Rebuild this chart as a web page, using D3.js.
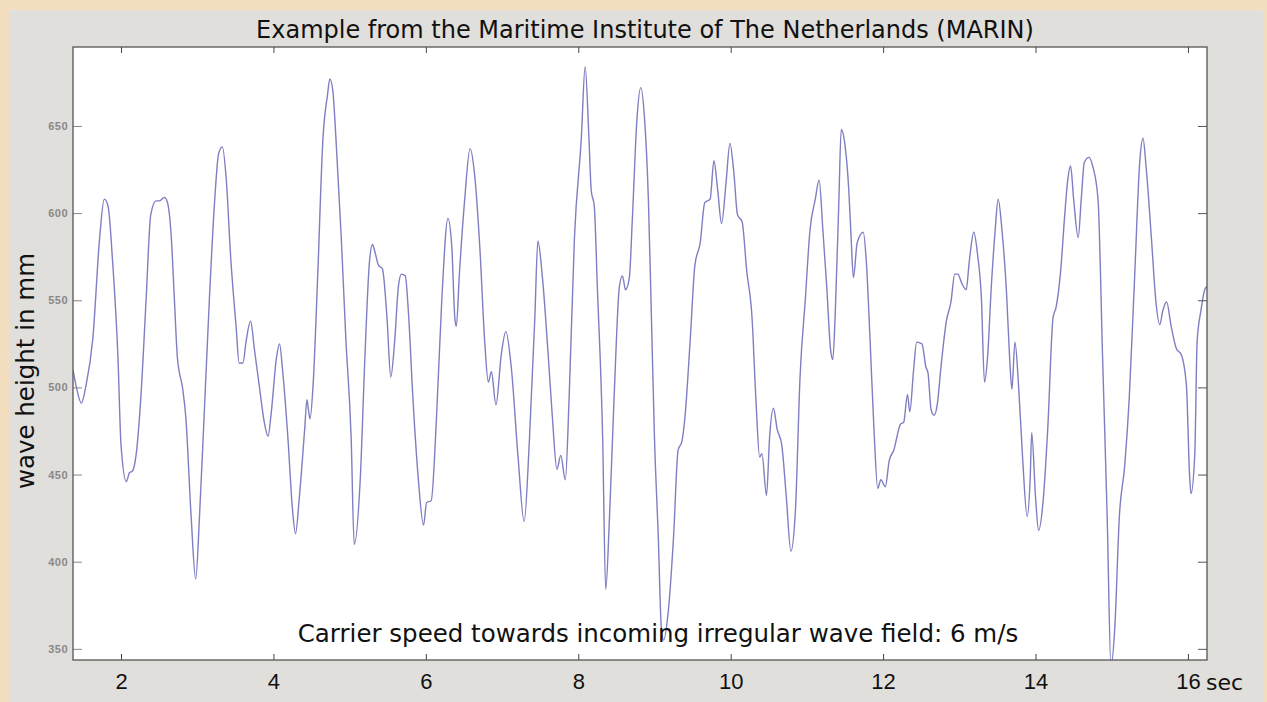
<!DOCTYPE html>
<html>
<head>
<meta charset="utf-8">
<script src="https://cdn.jsdelivr.net/npm/d3@7"></script>
<style>
  body { margin: 0; background: #f3dfbf; }
  svg { display: block; font-family: "DejaVu Sans", Verdana, sans-serif; }
</style>
</head>
<body>
<div id="chart"></div>
<script>
// time in seconds
const times = [
  1.37,1.41,1.48,1.54,1.63,1.72,1.78,1.83,1.89,1.96,2.0,2.07,2.11,2.15,2.2,2.26,2.33,2.39,2.46,2.5,
  2.57,2.61,2.66,2.7,2.74,2.81,2.85,2.92,2.98,3.03,3.09,3.16,3.23,3.28,3.33,3.38,3.44,3.51,3.55,3.6,
  3.64,3.7,3.75,3.82,3.88,3.93,3.97,4.04,4.08,4.12,4.19,4.25,4.29,4.34,4.41,4.44,4.46,4.48,4.52,4.58,
  4.65,4.71,4.74,4.78,4.82,4.89,4.95,5.02,5.06,
  5.14,5.2,5.26,5.3,5.33,5.38,5.43,5.49,5.54,5.59,5.64,5.68,5.73,5.77,5.83,5.9,5.97,6.01,6.07,6.14,
  6.21,6.29,6.34,6.38,6.4,6.44,6.51,6.58,6.64,6.71,6.77,6.82,6.86,6.92,6.99,7.05,7.12,7.21,7.29,7.36,
  7.43,7.47,7.53,7.6,7.66,7.72,7.77,7.83,7.88,7.95,8.04,8.09,8.14,8.17,8.21,8.25,8.32,8.36,8.41,8.47,
  8.54,8.58,8.62,8.67,8.71,8.77,8.82,
  8.87,8.92,8.96,9.0,9.05,9.09,9.12,9.18,9.25,9.31,9.36,9.4,9.47,9.53,9.6,9.66,9.73,9.78,9.83,9.88,
  9.94,9.99,10.04,10.09,10.15,10.21,10.28,10.33,10.38,10.41,10.47,10.51,10.56,10.61,10.67,10.73,10.79,10.85,10.91,10.98,
  11.04,11.11,11.16,11.21,11.26,11.31,11.34,11.37,11.42,11.45,11.5,11.55,11.58,11.61,11.66,11.74,11.78,11.83,11.88,11.93,
  11.97,12.03,12.08,12.14,12.23,12.27,12.32,12.35,12.4,12.44,12.51,12.56,
  12.59,12.63,12.67,12.71,12.76,12.83,12.89,12.94,12.98,13.03,13.09,13.13,13.19,13.24,13.29,13.33,13.37,13.42,13.47,13.51,
  13.56,13.62,13.66,13.69,13.73,13.78,13.83,13.89,13.93,13.95,14.0,14.04,14.1,14.16,14.23,14.27,14.33,14.38,14.42,14.46,
  14.5,14.56,14.6,14.64,14.7,14.75,14.82,14.88,14.94,14.99,15.04,15.1,15.17,15.23,15.3,15.37,15.41,15.45,15.52,15.58,
  15.63,15.67,15.72,15.78,15.85,15.91,15.98,16.02,16.04,16.09,16.12,16.17,16.22,16.25
];

// wave height in mm at each time above
const heights = [
  510,501,491,501,528,586,608,604,572,517,467,446,451,452,462,494,551,599,607,607,
  609,606,586,551,517,499,483,426,390,426,483,551,608,634,638,620,574,535,514,514,
  526,538,522,499,480,472,485,517,525,510,471,430,416,437,476,493,487,482,501,563,
  643,668,677,670,643,586,528,471,410,
  448,517,572,582,578,570,568,540,506,526,558,565,564,544,494,448,421,434,435,483,
  551,597,581,540,535,565,608,637,622,579,528,503,509,490,519,532,512,460,423,471,
  540,584,563,522,483,453,461,447,494,586,643,684,643,613,604,558,471,384,426,494,
  558,564,556,563,597,654,672,
  654,608,540,471,414,362,355,371,414,464,469,483,528,570,583,606,608,630,613,594,
  618,640,624,599,595,567,540,494,460,462,438,471,488,476,467,437,406,430,506,551,
  590,608,619,590,558,522,516,540,608,648,639,613,586,563,583,589,572,526,476,442,
  447,443,458,464,479,480,496,486,510,526,525,512,
  508,487,484,490,512,538,549,565,565,560,556,572,589,576,551,503,517,558,590,608,
  590,554,517,499,526,499,460,426,448,474,437,418,435,476,540,546,567,597,618,627,
  608,586,608,629,632,627,608,517,426,340,362,426,455,494,563,631,643,627,586,549,
  536,544,549,535,522,519,501,451,439,462,526,544,556,558
];

const xTicks = [2, 4, 6, 8, 10, 12, 14, 16];
const yTicks = [350, 400, 450, 500, 550, 600, 650];

const width = 1267;
const height = 702;
const plot = { left: 73, top: 47, right: 1207, bottom: 660 };

const svg = d3.select('#chart').append('svg')
    .attr('width', width)
    .attr('height', height);

// beige page + grey panel behind the figure
svg.append('rect').attr('width', width).attr('height', height).attr('fill', '#f3dfbf');
svg.append('rect')
    .attr('x', 9).attr('y', 10)
    .attr('width', 1254).attr('height', 692)
    .attr('fill', '#e1dfdb');

const x = d3.scaleLinear().domain([1.37, 16.25]).range([plot.left, plot.right]);
const y = d3.scaleLinear().domain([343.6, 695.3]).range([plot.bottom, plot.top]);

svg.append('rect')
    .attr('x', plot.left).attr('y', plot.top)
    .attr('width', plot.right - plot.left)
    .attr('height', plot.bottom - plot.top)
    .attr('fill', '#ffffff');

svg.append('clipPath').attr('id', 'clip')
    .append('rect')
    .attr('x', plot.left).attr('y', plot.top)
    .attr('width', plot.right - plot.left)
    .attr('height', plot.bottom - plot.top);

const data = times.map((t, i) => ({ t: t, h: heights[i] }));

const line = d3.line()
    .x(d => x(d.t))
    .y(d => y(d.h))
    .curve(d3.curveMonotoneX);

svg.append('path')
    .datum(data)
    .attr('clip-path', 'url(#clip)')
    .attr('d', line)
    .attr('fill', 'none')
    .attr('stroke', '#7e7ec2')
    .attr('stroke-width', 1.4)
    .attr('stroke-linejoin', 'round');

// axes, ticks point inward like the original matlab box
const bottomAxis = svg.append('g')
    .attr('transform', `translate(0,${plot.bottom})`)
    .call(d3.axisBottom(x).tickValues(xTicks).tickSize(-6).tickPadding(13));
bottomAxis.selectAll('text').attr('font-size', 22).attr('fill', '#111');

svg.append('g')
    .attr('transform', `translate(0,${plot.top})`)
    .call(d3.axisTop(x).tickValues(xTicks).tickSize(-6).tickFormat(''));

const leftAxis = svg.append('g')
    .attr('transform', `translate(${plot.left},0)`)
    .call(d3.axisLeft(y).tickValues(yTicks).tickSize(-9).tickPadding(5));
leftAxis.selectAll('line').attr('stroke', '#888');
leftAxis.selectAll('text')
    .attr('font-size', 11)
    .attr('font-weight', 'bold')
    .attr('letter-spacing', 0.5)
    .attr('fill', '#888');

const rightAxis = svg.append('g')
    .attr('transform', `translate(${plot.right},0)`)
    .call(d3.axisRight(y).tickValues(yTicks).tickSize(-9).tickFormat(''));
rightAxis.selectAll('line').attr('stroke', '#555');

svg.selectAll('.domain').remove();
svg.selectAll('.tick line').filter(function() { return this.getAttribute('stroke') === 'currentColor'; })
    .attr('stroke', '#444');

// frame
svg.append('rect')
    .attr('x', plot.left).attr('y', plot.top)
    .attr('width', plot.right - plot.left)
    .attr('height', plot.bottom - plot.top)
    .attr('fill', 'none')
    .attr('stroke', '#555')
    .attr('stroke-width', 1.3);

// texts
svg.append('text')
    .attr('x', 645).attr('y', 38)
    .attr('text-anchor', 'middle')
    .attr('font-size', 24)
    .attr('fill', '#111')
    .text('Example from the Maritime Institute of The Netherlands (MARIN)');

svg.append('text')
    .attr('transform', 'translate(34,371) rotate(-90)')
    .attr('text-anchor', 'middle')
    .attr('font-size', 24.5)
    .attr('fill', '#111')
    .text('wave height in mm');

svg.append('text')
    .attr('x', 1206).attr('y', 690)
    .attr('font-size', 22)
    .attr('fill', '#111')
    .text('sec');

svg.append('text')
    .attr('x', 658).attr('y', 642)
    .attr('text-anchor', 'middle')
    .attr('font-size', 24.5)
    .attr('fill', '#111')
    .text('Carrier speed towards incoming irregular wave field: 6 m/s');
</script>
</body>
</html>
